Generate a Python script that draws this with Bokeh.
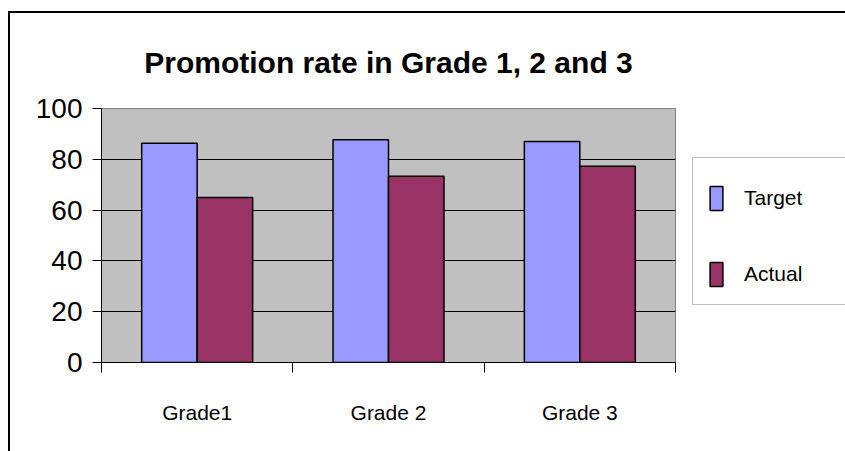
from bokeh.plotting import figure
from bokeh.models import (Range1d, FixedTicker, Legend, LegendItem,
                          ColumnDataSource)
from bokeh.transform import dodge
from bokeh.embed import file_html
from bokeh.resources import INLINE

# ---- data ----
categories = ["Grade1", "Grade 2", "Grade 3"]
target = [86.3, 87.7, 87.0]
actual = [65.0, 73.3, 77.3]
y_ticks = [0, 20, 40, 60, 80, 100]
title_text = "Promotion rate in Grade 1, 2 and 3"

xs = [i + 0.5 for i in range(len(categories))]
src = ColumnDataSource(dict(x=xs, cat=categories, target=target, actual=actual))

FONT = "Liberation Sans"

p = figure(output_backend="svg", toolbar_location=None,
           frame_width=574, frame_height=254,
           min_border_left=91, min_border_top=95,
           min_border_right=170, min_border_bottom=89,
           x_range=Range1d(0, len(categories)), y_range=Range1d(0, 100),
           title=title_text)
p.styles = {"border-left": "2px solid black", "border-top": "2px solid black",
            "margin-top": "11px", "margin-left": "8px"}

p.background_fill_color = "#C0C0C0"
p.border_fill_color = "white"
p.outline_line_color = "#808080"
p.outline_line_width = 1

p.title.align = "center"
p.title.text_font = FONT
p.title.text_font_size = "30px"
p.title.text_font_style = "bold"
p.title.text_color = "black"
p.title.standoff = 60

rt = p.vbar(x=dodge("x", -0.145, range=p.x_range), top="target", width=0.29,
            source=src, fill_color="#9999FF", line_color="black", line_width=1.5)
ra = p.vbar(x=dodge("x", 0.145, range=p.x_range), top="actual", width=0.29,
            source=src, fill_color="#993366", line_color="black", line_width=1.5)

# x axis: labels at category centres, ticks at boundaries
xa = p.xaxis[0]
xa.ticker = FixedTicker(ticks=xs, minor_ticks=list(range(len(categories) + 1)))
xa.major_label_overrides = {x: c for x, c in zip(xs, categories)}
xa.major_tick_out = 0
xa.major_tick_in = 0
xa.minor_tick_out = 10
xa.minor_tick_in = 0
xa.minor_tick_line_color = "black"
xa.axis_line_color = "black"
xa.major_label_standoff = 28
xa.major_label_text_font = FONT
xa.major_label_text_font_size = "21px"
xa.major_label_text_color = "black"

ya = p.yaxis[0]
ya.ticker = FixedTicker(ticks=y_ticks)
ya.major_tick_out = 9
ya.major_tick_in = 0
ya.minor_tick_line_color = None
ya.axis_line_color = "black"
ya.major_tick_line_color = "black"
ya.major_label_standoff = 10
ya.major_label_text_font = FONT
ya.major_label_text_font_size = "28px"
ya.major_label_text_color = "black"

p.xgrid.grid_line_color = None
p.ygrid.ticker = FixedTicker(ticks=y_ticks[1:-1])
p.ygrid.grid_line_color = "black"
p.ygrid.grid_line_alpha = 1.0

legend = Legend(items=[LegendItem(label="Target", renderers=[rt]),
                       LegendItem(label="Actual", renderers=[ra])],
                location=(17, 57), orientation="vertical", margin=0,
                title=" ", title_text_font_size="2px", title_standoff=8,
                glyph_width=16, glyph_height=30, label_height=30,
                spacing=46, padding=15, label_standoff=20, label_width=100,
                label_text_font=FONT, label_text_font_size="21px",
                label_text_color="black",
                border_line_color="#808080", border_line_width=1,
                background_fill_color="white", background_fill_alpha=1.0)
p.add_layout(legend, "right")

open("out.html", "w").write(file_html(p, INLINE))
